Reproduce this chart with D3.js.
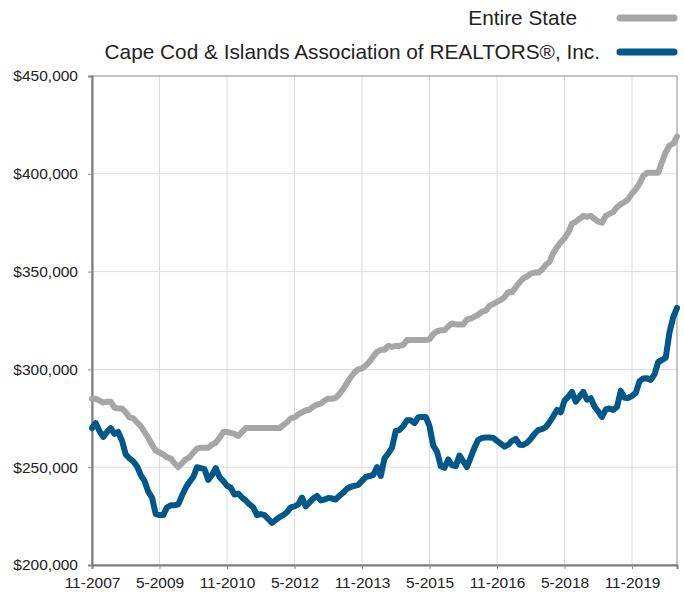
<!DOCTYPE html>
<html>
<head>
<meta charset="utf-8">
<script src="https://cdn.jsdelivr.net/npm/d3@7"></script>
<style>
  body { margin: 0; background: #fff; }
  svg { font-family: "Liberation Sans", Arial, Helvetica, sans-serif; }
</style>
</head>
<body>
<div id="chart"></div>
<script>
// monthly median sale price, in thousands of dollars, 11-2007 .. 11-2020
const seriesNames = ["Entire State", "Cape Cod & Islands Association of REALTORS®, Inc."];
const seriesColors = ["#a6a6a6", "#00578a"];

const stateValues = [
  285, 285, 284, 283, 283.5, 283.5, 280.5, 280, 280, 278, 275.5, 275,
  273, 271, 268, 265, 261.5, 258.5, 257.5, 256.5, 255, 254.5, 252, 250,
  252, 254, 255, 257.5, 259.5, 260, 260, 260, 261.5, 262.5, 265, 268,
  268, 267.5, 267, 266, 268, 270, 270, 270, 270, 270, 270, 270,
  270, 270, 270, 271.5, 273, 275, 275.5, 277, 278, 279, 279.5, 281,
  282, 282.5, 284, 285, 285, 285.5, 287.5, 290, 293, 296, 298.5, 300,
  300.5, 302, 304, 306.5, 309, 310, 310, 312, 311.5, 312, 312, 312.5,
  315, 315, 315, 315, 315, 315, 315.5, 318, 319.5, 320, 320, 322,
  323.5, 323, 323, 323, 325.5, 326, 327, 328, 329.5, 330, 332.5, 333.5,
  334.5, 335.5, 337, 339.5, 339.5, 342, 344.5, 346.5, 347.5, 349, 349.5, 349.5,
  351, 353.5, 355, 359.5, 362.5, 365, 367, 370, 374.5, 375.5, 377, 378.5,
  378, 378.5, 377, 375.5, 375, 378.5, 379.5, 380.5, 383, 384.5, 385.5, 387,
  390, 392, 395, 399, 400.5, 400.5, 400.5, 400.5, 406, 411, 414.5, 415.5,
  419
];

const capeValues = [
  270, 272.5, 268.5, 265.5, 268, 270, 267, 268, 263.5, 256.5, 254.5, 253,
  250.5, 246, 243, 237.5, 234.5, 226, 225.5, 225.5, 229.5, 230.5, 230.5, 231,
  235.5, 239.5, 242.5, 245, 250, 249.5, 249, 243.5, 246, 249.5, 245, 243,
  240.5, 239.5, 236, 236.5, 234.5, 233, 231, 229.5, 225.5, 226, 225.5, 223.5,
  221.5, 223, 224.5, 225.5, 227, 229.5, 230, 231, 234.5, 230, 232, 234,
  235.3, 233, 233.5, 234.3, 234, 233.5, 235.5, 237, 239, 240, 240.5, 241,
  243, 245, 245.5, 246, 250, 245.5, 254.5, 257, 260, 268.5, 269, 271,
  274, 274, 272.5, 275.5, 275.7, 275.7, 271, 261, 258, 250.5, 249.7, 254,
  251, 250.5, 256, 253, 250.1, 255, 260, 264, 265, 265.2, 265.2, 265,
  263.5, 262, 260.5, 261.5, 263.5, 264.5, 261.5, 261.4, 262.5, 264.5, 267, 269,
  269.5, 270.5, 273, 276, 279.3, 278, 284, 286, 288.5, 283.5, 286, 288.5,
  284.5, 285.3, 281, 278.5, 275.7, 279.5, 280, 279.3, 280.8, 289, 285.5, 285.4,
  286.5, 288, 294, 295.3, 295.5, 294.6, 297.5, 303.8, 304.8, 306, 319, 326.8,
  331.4
];

const xTickLabels = ["11-2007", "5-2009", "11-2010", "5-2012", "11-2013", "5-2015", "11-2016", "5-2018", "11-2019"];
const yTickValues = [200, 250, 300, 350, 400, 450];

const width = 684, height = 592;
const margin = { top: 76, right: 7, bottom: 27, left: 92 };

const svg = d3.select("#chart").append("svg")
  .attr("width", width)
  .attr("height", height);

const x = d3.scaleLinear()
  .domain([0, stateValues.length - 1])
  .range([margin.left, width - margin.right]);

const y = d3.scaleLinear()
  .domain([200, 450])
  .range([height - margin.bottom, margin.top]);

// tick every 18 months
const xTicks = xTickLabels.map((d, i) => i * 18);

// grid
svg.append("g")
  .selectAll("line.vgrid")
  .data(xTicks.slice(1))
  .enter().append("line")
  .attr("x1", d => x(d)).attr("x2", d => x(d))
  .attr("y1", y(450)).attr("y2", y(200))
  .attr("stroke", "#dcdcdc").attr("stroke-width", 1);

svg.append("g")
  .selectAll("line.hgrid")
  .data(yTickValues.slice(1, -1))
  .enter().append("line")
  .attr("x1", x(0)).attr("x2", width - margin.right)
  .attr("y1", d => y(d)).attr("y2", d => y(d))
  .attr("stroke", "#dcdcdc").attr("stroke-width", 1);

// frame
svg.append("rect")
  .attr("x", x(0)).attr("y", y(450))
  .attr("width", width - margin.right - x(0))
  .attr("height", y(200) - y(450))
  .attr("fill", "none")
  .attr("stroke", "#8c8c8c").attr("stroke-width", 1);

// axes
const xAxis = d3.axisBottom(x)
  .tickValues(xTicks)
  .tickFormat((d, i) => xTickLabels[i])
  .tickSize(4).tickPadding(8);

const yAxis = d3.axisLeft(y)
  .tickValues(yTickValues)
  .tickFormat(d => "$" + d + ",000")
  .tickSize(4).tickPadding(10);

const gx = svg.append("g")
  .attr("transform", `translate(0,${y(200)})`)
  .call(xAxis);
const gy = svg.append("g")
  .attr("transform", `translate(${x(0)},0)`)
  .call(yAxis);

[gx, gy].forEach(g => {
  g.select(".domain").attr("stroke", "#7a7a7a").attr("stroke-width", 2);
  g.selectAll(".tick line").attr("stroke", "#8c8c8c");
  g.selectAll(".tick text")
    .attr("fill", "#222")
    .style("font-size", "15.5px")
    .style("font-family", "\"Liberation Sans\", Arial, sans-serif");
});

// lines
const line = d3.line()
  .x((d, i) => x(i))
  .y(d => y(d))
  .curve(d3.curveLinear);

[stateValues, capeValues].forEach((vals, k) => {
  svg.append("path")
    .datum(vals)
    .attr("fill", "none")
    .attr("stroke", seriesColors[k])
    .attr("stroke-width", 6)
    .attr("stroke-linejoin", "round")
    .attr("stroke-linecap", "round")
    .attr("d", line);
});

// legend
const legend = svg.append("g");
seriesNames.forEach((name, k) => {
  const ly = 18 + k * 34;
  legend.append("text")
    .attr("x", 600 - (k === 0 ? 23 : 0))
    .attr("y", ly + 7)
    .attr("text-anchor", "end")
    .attr("fill", "#222")
    .style("font-size", "20.8px")
    .text(name);
  legend.append("line")
    .attr("x1", 620).attr("x2", 674)
    .attr("y1", ly).attr("y2", ly)
    .attr("stroke", seriesColors[k])
    .attr("stroke-width", 7)
    .attr("stroke-linecap", "round");
});
</script>
</body>
</html>
